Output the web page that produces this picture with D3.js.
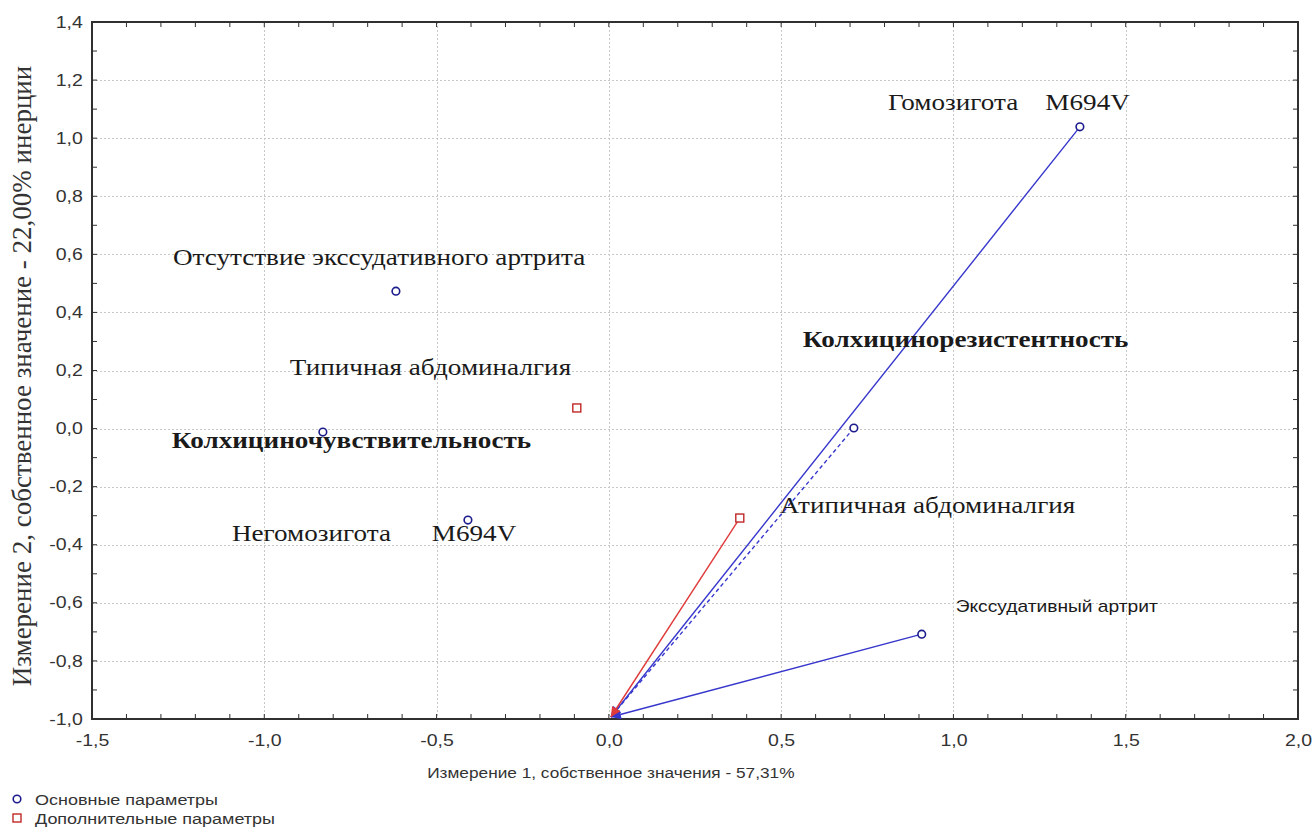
<!DOCTYPE html>
<html>
<head>
<meta charset="utf-8">
<script src="https://cdn.jsdelivr.net/npm/d3@7"></script>
<style>
  html, body { margin: 0; padding: 0; background: #fff; }
  svg text { white-space: pre; }
</style>
</head>
<body>
<svg id="chart" width="1312" height="836"></svg>
<script>
// Correspondence analysis coordinates
const pointNames = [
  "Гомозигота    M694V",
  "Отсутствие экссудативного артрита",
  "Колхициночувствительность",
  "Негомозигота      M694V",
  "Колхицинорезистентность",
  "Экссудативный артрит",
  "Типичная абдоминалгия",
  "Атипичная абдоминалгия"
];
const dim1Values = [1.367, -0.618, -0.830, -0.409, 0.711, 0.908, -0.093, 0.380];
const dim2Values = [1.039, 0.473, -0.012, -0.315, 0.002, -0.708, 0.071, -0.308];
// "main" = основные параметры, "extra" = дополнительные параметры
const pointGroups = ["main", "main", "main", "main", "main", "main", "extra", "extra"];
// vectors drawn from a point back to the origin: "solid", "dashed" or none
const vectorKinds = ["solid", null, null, null, "dashed", "solid", null, "solid"];
const vectorOrigin = [0.0, -1.0];

const xTicks = [-1.5, -1.0, -0.5, 0.0, 0.5, 1.0, 1.5, 2.0];
const yTicks = [-1.0, -0.8, -0.6, -0.4, -0.2, 0.0, 0.2, 0.4, 0.6, 0.8, 1.0, 1.2, 1.4];
const xTitle = "Измерение 1, собственное значения - 57,31%";
const yTitle = "Измерение 2, собственное значение - 22,00% инерции";
const legendNames = ["Основные параметры", "Дополнительные параметры"];

// label placement (pixel offsets from the marker) and style
const labelLayout = [
  { dx: -192, dy: -17, font: "serif", bold: false },
  { dx: -223, dy: -26, font: "serif", bold: false },
  { dx: -151, dy: 16, font: "serif", bold: true },
  { dx: -236, dy: 21, font: "serif", bold: false },
  { dx: -51, dy: -81, font: "serif", bold: true },
  { dx: 34, dy: -22, font: "sans", bold: false },
  { dx: -287, dy: -33, font: "serif", bold: false },
  { dx: 40, dy: -5, font: "serif", bold: false }
];

const W = 1312, H = 836;
const m = { left: 92, right: 1298, top: 22, bottom: 719 };
const STRETCH = 1.22;       // horizontal text proportion
const svg = d3.select("#chart");

const x = d3.scaleLinear().domain([-1.5, 2.0]).range([m.left, m.right]);
const y = d3.scaleLinear().domain([-1.0, 1.4]).range([m.bottom, m.top]);
const fmt = v => d3.format(".1f")(v).replace(".", ",").replace("−", "-");

const SANS = "'Liberation Sans', Arial, sans-serif";
const SERIF = "'Liberation Serif', 'Times New Roman', serif";

// text placed at (px, py) with a horizontal stretch
function stretchedText(g, px, py, sx) {
  return g.append("text").attr("transform", `translate(${px},${py}) scale(${sx},1)`);
}

// grid
const grid = svg.append("g").attr("class", "grid")
  .attr("stroke", "#c8c8c8").attr("stroke-width", 1).attr("stroke-dasharray", "2,2");
grid.selectAll("line.gx").data(xTicks.slice(1, -1)).join("line")
  .attr("x1", d => Math.round(x(d)) + 0.5).attr("x2", d => Math.round(x(d)) + 0.5)
  .attr("y1", m.top).attr("y2", m.bottom);
grid.selectAll("line.gy").data(yTicks.slice(1, -1)).join("line")
  .attr("y1", d => Math.round(y(d)) + 0.5).attr("y2", d => Math.round(y(d)) + 0.5)
  .attr("x1", m.left).attr("x2", m.right);

// axes with inward ticks on all four sides
const xMinor = d3.range(-1.5, 2.0001, 0.1);
const yMinor = d3.range(-1.0, 1.4001, 0.1);
const tickLen = 5;
const axisColor = "#303030";

const bottomAxis = d3.axisBottom(x).tickValues(xTicks).tickFormat(fmt).tickSize(0).tickPadding(16);
const gB = svg.append("g").attr("transform", `translate(0,${m.bottom})`).call(bottomAxis);
gB.select(".domain").remove();
gB.selectAll("text").attr("font-family", SANS).attr("font-size", 16).attr("fill", "#333")
  .attr("transform", `scale(${STRETCH},1)`);

const leftAxis = d3.axisLeft(y).tickValues(yTicks).tickFormat(fmt).tickSize(0).tickPadding(7.5);
const gL = svg.append("g").attr("transform", `translate(${m.left},0)`).call(leftAxis);
gL.select(".domain").remove();
gL.selectAll("text").attr("font-family", SANS).attr("font-size", 16).attr("fill", "#333")
  .attr("transform", `scale(${STRETCH},1)`);

const ticks = svg.append("g").attr("stroke", axisColor).attr("stroke-width", 1);
ticks.selectAll("line.tb").data(xMinor).join("line")
  .attr("x1", d => x(d)).attr("x2", d => x(d)).attr("y1", m.bottom).attr("y2", m.bottom - tickLen);
ticks.selectAll("line.tt").data(xMinor).join("line")
  .attr("x1", d => x(d)).attr("x2", d => x(d)).attr("y1", m.top).attr("y2", m.top + tickLen);
ticks.selectAll("line.tl").data(yMinor).join("line")
  .attr("y1", d => y(d)).attr("y2", d => y(d)).attr("x1", m.left).attr("x2", m.left + tickLen);
ticks.selectAll("line.tr").data(yMinor).join("line")
  .attr("y1", d => y(d)).attr("y2", d => y(d)).attr("x1", m.right).attr("x2", m.right - tickLen);

// frame
svg.append("rect")
  .attr("x", m.left).attr("y", m.top)
  .attr("width", m.right - m.left).attr("height", m.bottom - m.top)
  .attr("fill", "none").attr("stroke", axisColor).attr("stroke-width", 2);

// axis titles
stretchedText(svg, x(0) + 2, 778, 1.15)
  .attr("text-anchor", "middle")
  .attr("font-family", SANS).attr("font-size", 15).attr("fill", "#333")
  .text(xTitle);
svg.append("text")
  .attr("transform", `translate(31,376) scale(1.05,1) rotate(-90)`)
  .attr("text-anchor", "middle")
  .attr("font-family", SERIF).attr("font-size", 27).attr("fill", "#333")
  .text(yTitle);

// data table
const points = pointNames.map((name, i) => ({
  name, x: dim1Values[i], y: dim2Values[i], group: pointGroups[i],
  vector: vectorKinds[i], layout: labelLayout[i]
}));

const BLUE_LINE = "#3636cc", RED_LINE = "#e03a3a";
const BLUE_MARK = "#1c1c8c", RED_MARK = "#c02828";

const defs = svg.append("defs");
[["arrowBlue", BLUE_LINE], ["arrowRed", RED_LINE]].forEach(([id, c]) => {
  defs.append("marker")
    .attr("id", id).attr("viewBox", "0 0 10 10")
    .attr("refX", 10).attr("refY", 5)
    .attr("markerWidth", 15).attr("markerHeight", 10)
    .attr("markerUnits", "userSpaceOnUse")
    .attr("orient", "auto")
    .append("path").attr("d", "M0,0 L10,5 L0,10 Z").attr("fill", c);
});

// vectors to the origin
svg.append("g").selectAll("line")
  .data(points.filter(p => p.vector))
  .join("line")
  .attr("x1", p => x(p.x)).attr("y1", p => y(p.y))
  .attr("x2", x(vectorOrigin[0]) + 2).attr("y2", y(vectorOrigin[1]) - 2)
  .attr("stroke", p => p.group === "main" ? BLUE_LINE : RED_LINE)
  .attr("stroke-width", 1.4)
  .attr("stroke-dasharray", p => p.vector === "dashed" ? "4,3" : null)
  .attr("marker-end", p => p.group === "main" ? "url(#arrowBlue)" : "url(#arrowRed)");

// labels
const labelG = svg.append("g");
points.forEach(p => {
  const sans = p.layout.font === "sans";
  stretchedText(labelG, x(p.x) + p.layout.dx, y(p.y) + p.layout.dy, sans ? 1.2 : 1.181)
    .attr("font-family", sans ? SANS : SERIF)
    .attr("font-size", sans ? 16 : 23)
    .attr("font-weight", p.layout.bold ? "bold" : "normal")
    .attr("fill", "#1a1a1a")
    .text(p.name);
});

// markers
const markG = svg.append("g");
markG.selectAll("circle")
  .data(points.filter(p => p.group === "main"))
  .join("circle")
  .attr("cx", p => x(p.x)).attr("cy", p => y(p.y)).attr("r", 3.8)
  .attr("fill", "#fff").attr("stroke", BLUE_MARK).attr("stroke-width", 1.6);
markG.selectAll("rect")
  .data(points.filter(p => p.group === "extra"))
  .join("rect")
  .attr("x", p => x(p.x) - 4).attr("y", p => y(p.y) - 4)
  .attr("width", 8).attr("height", 8)
  .attr("fill", "#fff").attr("stroke", RED_MARK).attr("stroke-width", 1.4);

// legend
const legend = svg.append("g");
legendNames.forEach((name, i) => {
  const cy = 799 + i * 19;
  if (i === 0) {
    legend.append("circle").attr("cx", 17).attr("cy", cy).attr("r", 3.8)
      .attr("fill", "#fff").attr("stroke", BLUE_MARK).attr("stroke-width", 1.6);
  } else {
    legend.append("rect").attr("x", 13).attr("y", cy - 4).attr("width", 8).attr("height", 8)
      .attr("fill", "#fff").attr("stroke", RED_MARK).attr("stroke-width", 1.4);
  }
  stretchedText(legend, 35, cy + 5.5, 1.2)
    .attr("font-family", SANS).attr("font-size", 15).attr("fill", "#333")
    .text(name);
});
</script>
</body>
</html>
